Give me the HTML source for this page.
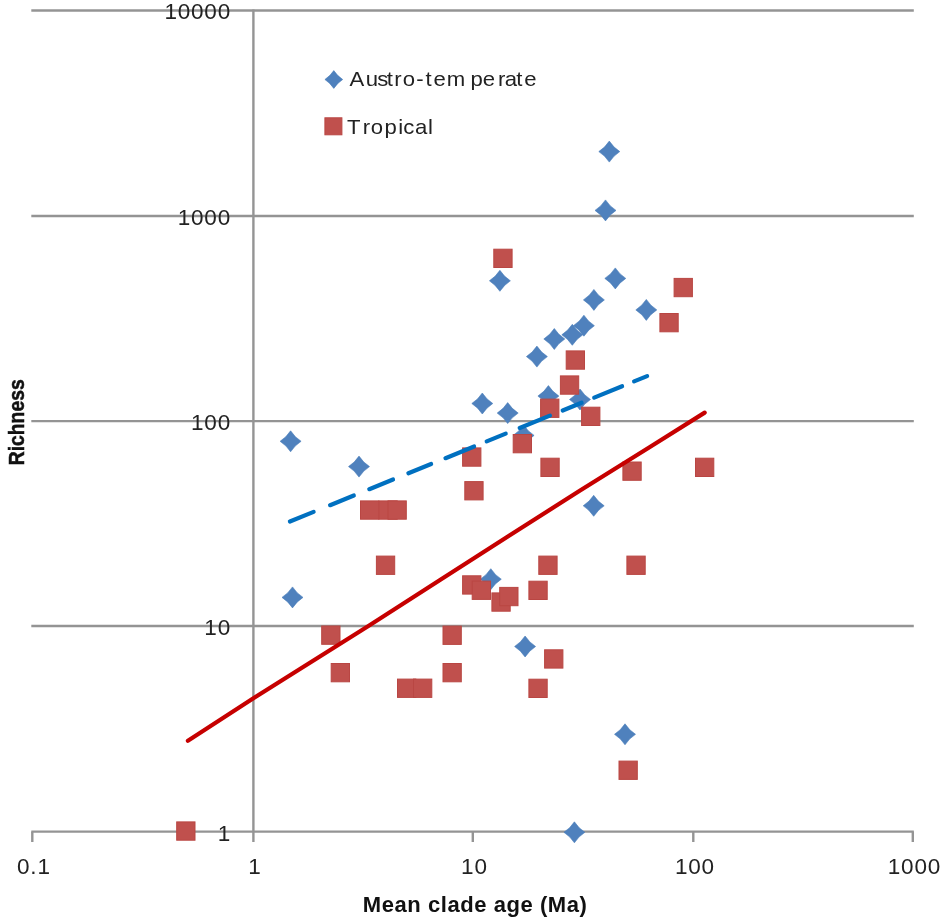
<!DOCTYPE html>
<html><head><meta charset="utf-8"><title>Richness vs mean clade age</title>
<style>
html,body{margin:0;padding:0;background:#fff;}
body{width:945px;height:921px;overflow:hidden;font-family:"Liberation Sans",sans-serif;}
svg{display:block;filter:blur(0.7px);}
text{font-family:"Liberation Sans",sans-serif;fill:#222;}
.ax{font-size:22.5px;letter-spacing:0.8px;}
.lg{font-size:20.5px;}
.tt{font-size:22px;font-weight:bold;fill:#111;}
</style></head><body>
<svg width="945" height="921" viewBox="0 0 945 921">
<rect width="945" height="921" fill="#ffffff"/>
<g stroke="#949494" stroke-width="2.4" fill="none">
<line x1="31.299999999999997" y1="10.5" x2="913.8" y2="10.5"/>
<line x1="31.299999999999997" y1="216.0" x2="913.8" y2="216.0"/>
<line x1="31.299999999999997" y1="421.1" x2="913.8" y2="421.1"/>
<line x1="31.299999999999997" y1="626.0" x2="913.8" y2="626.0"/>
<line x1="31.299999999999997" y1="831.6" x2="913.8" y2="831.6"/>
<line x1="253.4" y1="9.5" x2="253.4" y2="842"/>
<line x1="32.3" y1="831.6" x2="32.3" y2="842"/>
<line x1="472.8" y1="831.6" x2="472.8" y2="842"/>
<line x1="693.3" y1="831.6" x2="693.3" y2="842"/>
<line x1="912.8" y1="831.6" x2="912.8" y2="842"/>
</g>
<g class="ax" text-anchor="end">
<text x="231.0" y="19.4">10000</text>
<text x="231.0" y="224.9">1000</text>
<text x="231.0" y="430.0">100</text>
<text x="231.0" y="634.9">10</text>
<text x="231.0" y="840.5">1</text>
</g>
<g class="ax" text-anchor="middle">
<text x="33.9" y="874.4">0.1</text>
<text x="255.0" y="874.4">1</text>
<text x="474.4" y="874.4">10</text>
<text x="694.9" y="874.4">100</text>
<text x="914.4" y="874.4">1000</text>
</g>
<g fill="#4f81bd" stroke="#4a7ebb" stroke-width="0.6">
<path d="M290.6 430.8 Q294.7 437.2 301.1 441.3 Q294.7 445.4 290.6 451.8 Q286.5 445.4 280.1 441.3 Q286.5 437.2 290.6 430.8Z"/>
<path d="M292.5 586.9 Q296.6 593.3 303.0 597.4 Q296.6 601.5 292.5 607.9 Q288.4 601.5 282.0 597.4 Q288.4 593.3 292.5 586.9Z"/>
<path d="M359.0 456.1 Q363.1 462.5 369.5 466.6 Q363.1 470.7 359.0 477.1 Q354.9 470.7 348.5 466.6 Q354.9 462.5 359.0 456.1Z"/>
<path d="M482.3 393.0 Q486.4 399.4 492.8 403.5 Q486.4 407.6 482.3 414.0 Q478.2 407.6 471.8 403.5 Q478.2 399.4 482.3 393.0Z"/>
<path d="M507.7 402.6 Q511.8 409.0 518.2 413.1 Q511.8 417.2 507.7 423.6 Q503.6 417.2 497.2 413.1 Q503.6 409.0 507.7 402.6Z"/>
<path d="M499.9 270.3 Q504.0 276.7 510.4 280.8 Q504.0 284.9 499.9 291.3 Q495.8 284.9 489.4 280.8 Q495.8 276.7 499.9 270.3Z"/>
<path d="M536.9 346.1 Q541.0 352.5 547.4 356.6 Q541.0 360.7 536.9 367.1 Q532.8 360.7 526.4 356.6 Q532.8 352.5 536.9 346.1Z"/>
<path d="M548.4 385.6 Q552.5 392.0 558.9 396.1 Q552.5 400.2 548.4 406.6 Q544.3 400.2 537.9 396.1 Q544.3 392.0 548.4 385.6Z"/>
<path d="M554.3 328.5 Q558.4 334.9 564.8 339.0 Q558.4 343.1 554.3 349.5 Q550.2 343.1 543.8 339.0 Q550.2 334.9 554.3 328.5Z"/>
<path d="M572.3 324.3 Q576.4 330.7 582.8 334.8 Q576.4 338.9 572.3 345.3 Q568.2 338.9 561.8 334.8 Q568.2 330.7 572.3 324.3Z"/>
<path d="M583.9 315.2 Q588.0 321.6 594.4 325.7 Q588.0 329.8 583.9 336.2 Q579.8 329.8 573.4 325.7 Q579.8 321.6 583.9 315.2Z"/>
<path d="M580.0 389.0 Q584.1 395.4 590.5 399.5 Q584.1 403.6 580.0 410.0 Q575.9 403.6 569.5 399.5 Q575.9 395.4 580.0 389.0Z"/>
<path d="M593.9 289.4 Q598.0 295.8 604.4 299.9 Q598.0 304.0 593.9 310.4 Q589.8 304.0 583.4 299.9 Q589.8 295.8 593.9 289.4Z"/>
<path d="M615.3 267.9 Q619.4 274.3 625.8 278.4 Q619.4 282.5 615.3 288.9 Q611.2 282.5 604.8 278.4 Q611.2 274.3 615.3 267.9Z"/>
<path d="M646.3 299.4 Q650.4 305.8 656.8 309.9 Q650.4 314.0 646.3 320.4 Q642.2 314.0 635.8 309.9 Q642.2 305.8 646.3 299.4Z"/>
<path d="M605.5 199.9 Q609.6 206.3 616.0 210.4 Q609.6 214.5 605.5 220.9 Q601.4 214.5 595.0 210.4 Q601.4 206.3 605.5 199.9Z"/>
<path d="M609.3 141.1 Q613.4 147.5 619.8 151.6 Q613.4 155.7 609.3 162.1 Q605.2 155.7 598.8 151.6 Q605.2 147.5 609.3 141.1Z"/>
<path d="M593.7 495.3 Q597.8 501.7 604.2 505.8 Q597.8 509.9 593.7 516.3 Q589.6 509.9 583.2 505.8 Q589.6 501.7 593.7 495.3Z"/>
<path d="M490.8 568.7 Q494.9 575.1 501.3 579.2 Q494.9 583.3 490.8 589.7 Q486.7 583.3 480.3 579.2 Q486.7 575.1 490.8 568.7Z"/>
<path d="M525.1 636.0 Q529.2 642.4 535.6 646.5 Q529.2 650.6 525.1 657.0 Q521.0 650.6 514.6 646.5 Q521.0 642.4 525.1 636.0Z"/>
<path d="M625.0 723.8 Q629.1 730.2 635.5 734.3 Q629.1 738.4 625.0 744.8 Q620.9 738.4 614.5 734.3 Q620.9 730.2 625.0 723.8Z"/>
<path d="M574.4 821.8 Q578.5 828.2 584.9 832.3 Q578.5 836.4 574.4 842.8 Q570.3 836.4 563.9 832.3 Q570.3 828.2 574.4 821.8Z"/>
<path d="M523.6 424.9 Q527.7 431.3 534.1 435.4 Q527.7 439.5 523.6 445.9 Q519.5 439.5 513.1 435.4 Q519.5 431.3 523.6 424.9Z"/>
</g>
<g fill="#c0504d" stroke="#b94643" stroke-width="1">
<rect x="176.7" y="821.9" width="18.3" height="18.3"/>
<rect x="321.7" y="626.0" width="18.3" height="18.3"/>
<rect x="331.2" y="663.5" width="18.3" height="18.3"/>
<rect x="360.5" y="500.9" width="18.3" height="18.3"/>
<rect x="378.9" y="500.9" width="18.3" height="18.3"/>
<rect x="388.0" y="500.9" width="18.3" height="18.3"/>
<rect x="376.4" y="556.1" width="18.3" height="18.3"/>
<rect x="397.5" y="679.1" width="18.3" height="18.3"/>
<rect x="413.5" y="679.1" width="18.3" height="18.3"/>
<rect x="443.0" y="626.1" width="18.3" height="18.3"/>
<rect x="443.0" y="663.5" width="18.3" height="18.3"/>
<rect x="462.6" y="447.9" width="18.3" height="18.3"/>
<rect x="464.8" y="481.6" width="18.3" height="18.3"/>
<rect x="462.6" y="575.8" width="18.3" height="18.3"/>
<rect x="472.2" y="581.1" width="18.3" height="18.3"/>
<rect x="491.9" y="592.9" width="18.3" height="18.3"/>
<rect x="499.7" y="587.4" width="18.3" height="18.3"/>
<rect x="493.8" y="249.2" width="18.3" height="18.3"/>
<rect x="513.2" y="434.5" width="18.3" height="18.3"/>
<rect x="540.6" y="399.1" width="18.3" height="18.3"/>
<rect x="560.4" y="375.9" width="18.3" height="18.3"/>
<rect x="566.2" y="350.9" width="18.3" height="18.3"/>
<rect x="581.6" y="407.2" width="18.3" height="18.3"/>
<rect x="540.9" y="458.2" width="18.3" height="18.3"/>
<rect x="538.8" y="556.1" width="18.3" height="18.3"/>
<rect x="528.9" y="581.2" width="18.3" height="18.3"/>
<rect x="544.6" y="649.8" width="18.3" height="18.3"/>
<rect x="528.9" y="679.2" width="18.3" height="18.3"/>
<rect x="622.9" y="462.0" width="18.3" height="18.3"/>
<rect x="626.9" y="556.1" width="18.3" height="18.3"/>
<rect x="619.0" y="761.1" width="18.3" height="18.3"/>
<rect x="659.9" y="313.5" width="18.3" height="18.3"/>
<rect x="674.1" y="278.4" width="18.3" height="18.3"/>
<rect x="695.5" y="458.2" width="18.3" height="18.3"/>
</g>
<polyline points="187.9,740.8 253.4,698.2 368.4,626.0 440,579.9 509.8,535.2 579.7,490.8 649.5,447.3 704.7,412.6" fill="none" stroke="#c60000" stroke-width="4.2" stroke-linecap="round" stroke-linejoin="round"/>
<g stroke="#0070c0" stroke-width="4.2" stroke-linecap="round">
<line x1="289.9" y1="521.5" x2="313.6" y2="511.9"/>
<line x1="330.1" y1="505.2" x2="353.8" y2="495.5"/>
<line x1="369.3" y1="489.2" x2="393.0" y2="479.5"/>
<line x1="408.4" y1="473.3" x2="431.1" y2="464.0"/>
<line x1="445.5" y1="458.2" x2="474.1" y2="446.5"/>
<line x1="486.7" y1="441.4" x2="505.7" y2="433.6"/>
<line x1="519.7" y1="428.0" x2="549.9" y2="415.6"/>
<line x1="562.7" y1="410.5" x2="581.6" y2="402.7"/>
<line x1="594.2" y1="397.6" x2="622.1" y2="386.2"/>
<line x1="634.1" y1="381.4" x2="647.1" y2="376.1"/>
</g>
<g fill="#4f81bd" stroke="#4a7ebb" stroke-width="0.6"><path d="M333.8 70.6 Q337.3 76.0 342.7 79.5 Q337.3 83.0 333.8 88.4 Q330.3 83.0 324.9 79.5 Q330.3 76.0 333.8 70.6Z"/></g>
<g fill="#c0504d" stroke="#b94643" stroke-width="1"><rect x="324.9" y="117.8" width="17" height="17"/></g>
<text class="lg" transform="scale(1.08 1)" y="85.7" x="323.6 338.7 349.3 358.1 365.1 373.0 385.5 393.9 401.5 413.7 435.6 446.9 461.1 467.4 478.0 485.5">Austro-temperate</text>
<text class="lg" transform="scale(1.08 1)" y="134.1" x="321.4 335.8 343.4 356.0 368.8 373.5 384.2 396.4">Tropical</text>
<text class="tt" x="474.8" y="912.4" text-anchor="middle" textLength="224" lengthAdjust="spacing">Mean clade age (Ma)</text>
<text class="tt" stroke="#111" stroke-width="0.5" transform="translate(24.1 422.3) rotate(-90)" text-anchor="middle" textLength="86" lengthAdjust="spacingAndGlyphs">Richness</text>
</svg></body></html>
